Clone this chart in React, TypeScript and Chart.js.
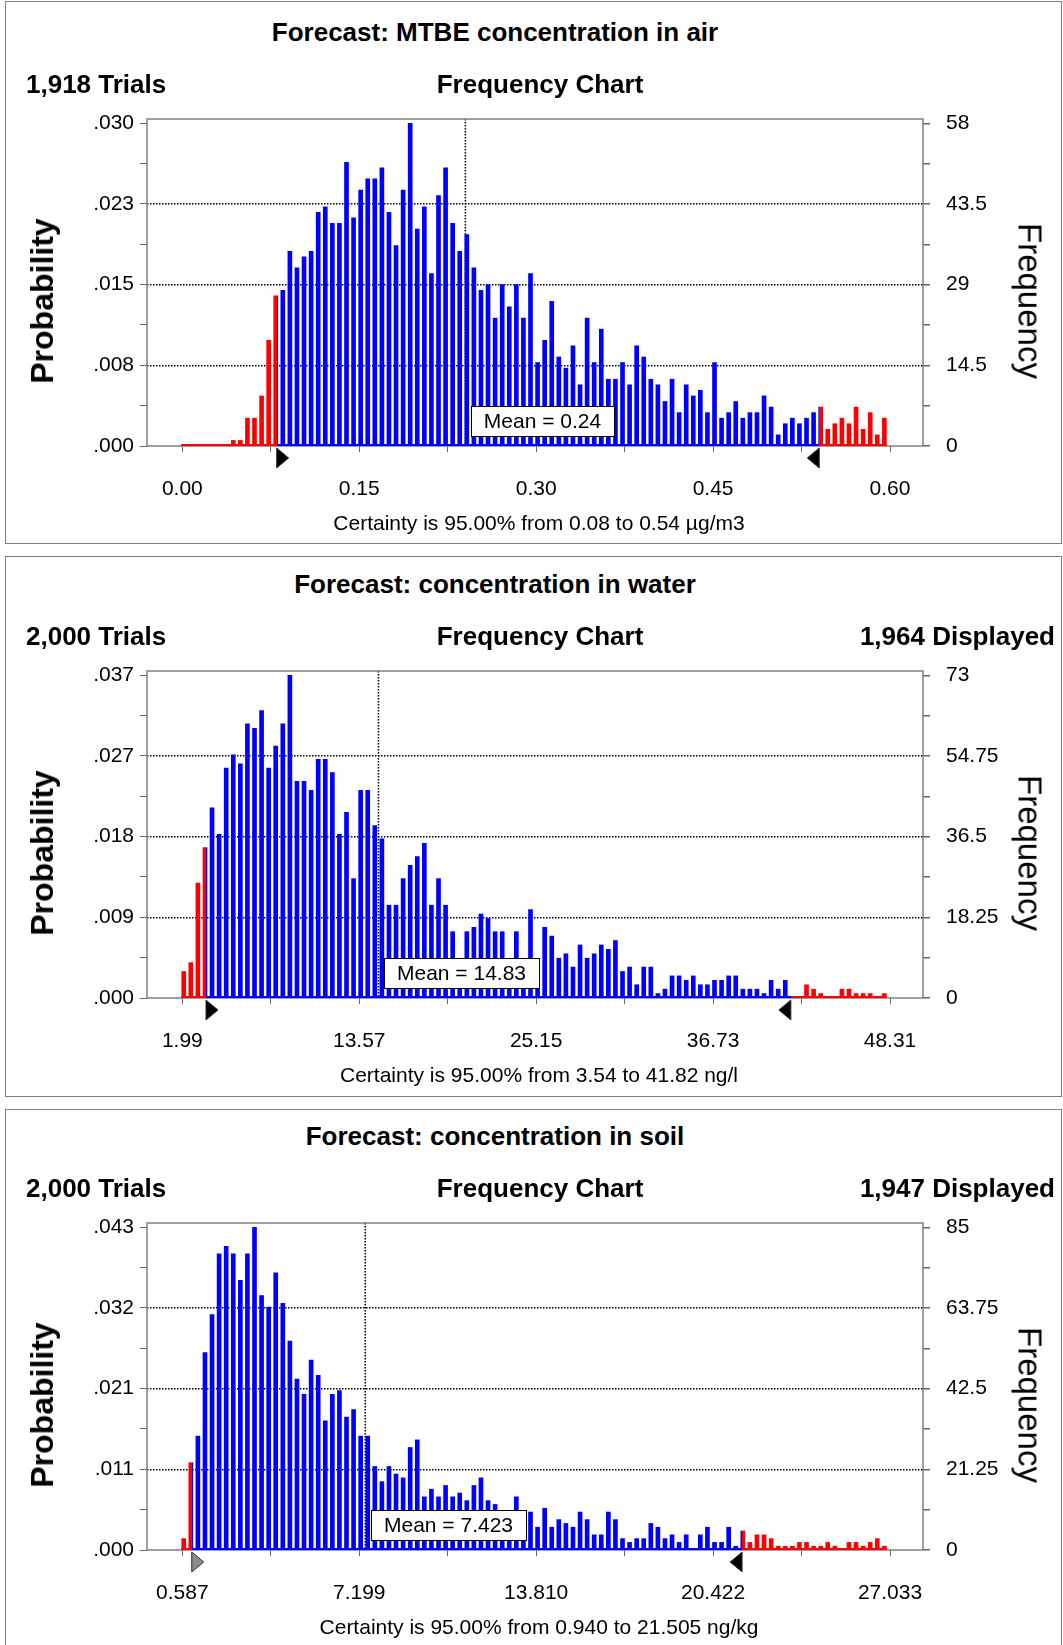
import React, { useEffect, useRef } from 'react';
import { Chart, registerables } from 'chart.js';

Chart.register(...registerables);

const FONT = '"Liberation Sans", Arial, Helvetica, sans-serif';
const RED = '#ff0000';
const BLUE = '#0000ff';

// ---------- Forecast 1: MTBE concentration in air ----------
const airTitle = 'Forecast: MTBE concentration in air';
const airTrialsText = '1,918 Trials';
const airDisplayedText = '';
const airTrials = 1918;
const airBinRange = [0.0, 0.6];
const airCounts = [
  0, 0, 0, 0, 0, 0, 0, 1, 1, 5,
  5, 9, 19, 27, 28, 35, 32, 34, 35, 42,
  43, 40, 40, 51, 41, 46, 48, 48, 50, 42,
  36, 46, 58, 39, 43, 31, 45, 50, 40, 35,
  38, 32, 28, 29, 23, 29, 25, 29, 23, 31,
  15, 19, 26, 16, 14, 18, 11, 23, 15, 21,
  12, 12, 15, 11, 18, 16, 12, 11, 8, 12,
  6, 11, 9, 10, 6, 15, 5, 6, 8, 5,
  6, 6, 9, 7, 2, 4, 5, 4, 5, 6,
  7, 3, 4, 5, 4, 7, 3, 6, 2, 5,
];
const airXTicks = ['0.00', '0.15', '0.30', '0.45', '0.60'];
const airFreqTicks = [0, 14.5, 29, 43.5, 58];
const airProbTicks = ['.000', '.008', '.015', '.023', '.030'];
const airMean = 0.24;
const airMeanLabel = 'Mean = 0.24';
const airCertainty = [0.08, 0.54];
const airCertaintyText = 'Certainty is 95.00% from 0.08 to 0.54 µg/m3';

// ---------- Forecast 2: concentration in water ----------
const waterTitle = 'Forecast: concentration in water';
const waterTrialsText = '2,000 Trials';
const waterDisplayedText = '1,964 Displayed';
const waterTrials = 2000;
const waterBinRange = [1.99, 48.31];
const waterCounts = [
  6, 8, 26, 34, 43, 37, 52, 55, 53, 62,
  61, 65, 52, 57, 62, 73, 49, 49, 47, 54,
  54, 51, 37, 42, 27, 47, 47, 39, 36, 21,
  21, 27, 30, 32, 35, 21, 27, 21, 15, 7,
  15, 16, 19, 18, 15, 15, 6, 15, 7, 20,
  6, 16, 14, 9, 10, 7, 12, 9, 10, 12,
  11, 13, 6, 7, 3, 7, 7, 1, 2, 5,
  5, 4, 5, 3, 3, 4, 4, 5, 5, 2,
  2, 2, 1, 4, 2, 4, 0, 0, 3, 2,
  1, 0, 0, 2, 2, 1, 1, 1, 0, 1,
];
const waterXTicks = ['1.99', '13.57', '25.15', '36.73', '48.31'];
const waterFreqTicks = [0, 18.25, 36.5, 54.75, 73];
const waterProbTicks = ['.000', '.009', '.018', '.027', '.037'];
const waterMean = 14.83;
const waterMeanLabel = 'Mean = 14.83';
const waterCertainty = [3.54, 41.82];
const waterCertaintyText = 'Certainty is 95.00% from 3.54 to 41.82 ng/l';

// ---------- Forecast 3: concentration in soil ----------
const soilTitle = 'Forecast: concentration in soil';
const soilTrialsText = '2,000 Trials';
const soilDisplayedText = '1,947 Displayed';
const soilTrials = 2000;
const soilBinRange = [0.587, 27.033];
const soilCounts = [
  3, 23, 30, 52, 62, 78, 80, 78, 71, 78,
  85, 67, 64, 73, 65, 55, 45, 41, 50, 46,
  34, 41, 42, 35, 37, 30, 30, 22, 18, 22,
  20, 19, 27, 29, 14, 16, 14, 17, 14, 15,
  13, 17, 19, 13, 12, 7, 6, 14, 7, 10,
  6, 11, 6, 8, 7, 6, 10, 8, 4, 4,
  10, 8, 3, 2, 3, 3, 7, 6, 3, 4,
  2, 4, 0, 4, 6, 2, 2, 6, 1, 5,
  2, 4, 4, 3, 1, 1, 1, 2, 2, 1,
  1, 2, 1, 0, 2, 2, 1, 2, 3, 1,
];
const soilXTicks = ['0.587', '7.199', '13.810', '20.422', '27.033'];
const soilFreqTicks = [0, 21.25, 42.5, 63.75, 85];
const soilProbTicks = ['.000', '.011', '.021', '.032', '.043'];
const soilMean = 7.423;
const soilMeanLabel = 'Mean = 7.423';
const soilCertainty = [0.94, 21.505];
const soilCertaintyText = 'Certainty is 95.00% from 0.940 to 21.505 ng/kg';

type Spec = {
  plotTop: number;
  frameTop: number;
  frameHeight: number;
  title: string;
  trialsText: string;
  displayedText: string;
  trials: number;
  binRange: number[];
  counts: number[];
  xTicks: string[];
  freqTicks: number[];
  probTicks: string[];
  mean: number;
  meanLabel: string;
  certainty: number[];
  certaintyText: string;
  lowMarkerFill: string;
};

const panels: Spec[] = [
  {
    plotTop: 119, frameTop: 1, frameHeight: 543,
    title: airTitle, trialsText: airTrialsText, displayedText: airDisplayedText,
    trials: airTrials, binRange: airBinRange, counts: airCounts,
    xTicks: airXTicks, freqTicks: airFreqTicks, probTicks: airProbTicks,
    mean: airMean, meanLabel: airMeanLabel, certainty: airCertainty,
    certaintyText: airCertaintyText, lowMarkerFill: '#000',
  },
  {
    plotTop: 671, frameTop: 556, frameHeight: 541,
    title: waterTitle, trialsText: waterTrialsText, displayedText: waterDisplayedText,
    trials: waterTrials, binRange: waterBinRange, counts: waterCounts,
    xTicks: waterXTicks, freqTicks: waterFreqTicks, probTicks: waterProbTicks,
    mean: waterMean, meanLabel: waterMeanLabel, certainty: waterCertainty,
    certaintyText: waterCertaintyText, lowMarkerFill: '#000',
  },
  {
    plotTop: 1223, frameTop: 1109, frameHeight: 560,
    title: soilTitle, trialsText: soilTrialsText, displayedText: soilDisplayedText,
    trials: soilTrials, binRange: soilBinRange, counts: soilCounts,
    xTicks: soilXTicks, freqTicks: soilFreqTicks, probTicks: soilProbTicks,
    mean: soilMean, meanLabel: soilMeanLabel, certainty: soilCertainty,
    certaintyText: soilCertaintyText, lowMarkerFill: '#8a8a8a',
  },
];

const CANVAS_W = 1063;
const PAD_TOP = 30;
const PLOT_H = 327;
const X_AXIS_H = 70;
const CANVAS_H = PAD_TOP + PLOT_H + X_AXIS_H;

// Horizontal fill: red outside the certainty range, blue inside it.
function certaintyFill(chart: any, s: Spec) {
  const a = chart.chartArea;
  const xs = chart.scales && chart.scales.x;
  if (!a || !xs) return BLUE;
  const key = `${a.left}|${a.right}`;
  if (chart.$certFill && chart.$certFill.key === key) return chart.$certFill.fill;
  const width = a.right - a.left;
  const clamp = (v: number) => Math.min(1, Math.max(0, v));
  const f0 = clamp((xs.getPixelForValue(s.certainty[0]) - a.left) / width);
  const f1 = clamp((xs.getPixelForValue(s.certainty[1]) - a.left) / width);
  const g = chart.ctx.createLinearGradient(a.left, 0, a.right, 0);
  g.addColorStop(0, RED);
  g.addColorStop(f0, RED);
  g.addColorStop(f0, BLUE);
  g.addColorStop(f1, BLUE);
  g.addColorStop(f1, RED);
  g.addColorStop(1, RED);
  chart.$certFill = { key, fill: g };
  return g;
}

function decorPlugin(s: Spec) {
  return {
    id: 'forecastDecor',
    beforeDatasetsDraw(chart: any) {
      const { ctx, chartArea: a, scales } = chart;
      const mx = scales.x.getPixelForValue(s.mean);
      ctx.save();
      ctx.strokeStyle = '#000';
      ctx.lineWidth = 1.5;
      ctx.setLineDash([1.5, 1.5]);
      ctx.beginPath();
      ctx.moveTo(mx, a.top);
      ctx.lineTo(mx, a.bottom);
      ctx.stroke();
      ctx.restore();
    },
    afterDatasetsDraw(chart: any) {
      const { ctx, chartArea: a, scales } = chart;
      const xs = scales.x;
      const y0 = scales.y.getPixelForValue(0);
      const bars = chart.getDatasetMeta(0).data;
      ctx.save();

      // plot frame
      ctx.strokeStyle = '#808080';
      ctx.lineWidth = 1.5;
      ctx.strokeRect(a.left, a.top, a.right - a.left, a.bottom - a.top);

      // coloured base line under the bins
      ctx.strokeStyle = certaintyFill(chart, s);
      ctx.lineWidth = 2.2;
      ctx.beginPath();
      ctx.moveTo(bars[0].x - 2.5, y0 - 1);
      ctx.lineTo(bars[bars.length - 1].x + 2.5, y0 - 1);
      ctx.stroke();

      // mean label
      ctx.font = `21px ${FONT}`;
      const tw = ctx.measureText(s.meanLabel).width;
      const bx = Math.round(xs.getPixelForValue(s.mean) + 6);
      const bw = Math.round(tw + 26);
      const by = Math.round(y0 - 40);
      const bh = 30;
      ctx.fillStyle = '#fff';
      ctx.fillRect(bx, by, bw, bh);
      ctx.strokeStyle = '#000';
      ctx.lineWidth = 1;
      ctx.strokeRect(bx + 0.5, by + 0.5, bw, bh);
      ctx.fillStyle = '#000';
      ctx.textAlign = 'center';
      ctx.textBaseline = 'middle';
      ctx.fillText(s.meanLabel, bx + bw / 2, by + bh / 2 + 1);

      // certainty grabbers
      const marker = (v: number, dir: number, fill: string) => {
        const x = xs.getPixelForValue(v);
        const t = a.bottom + 2;
        const b = a.bottom + 22;
        ctx.beginPath();
        ctx.moveTo(x, t);
        ctx.lineTo(x + dir * 12, (t + b) / 2);
        ctx.lineTo(x, b);
        ctx.closePath();
        ctx.fillStyle = fill;
        ctx.fill();
        ctx.strokeStyle = '#333';
        ctx.lineWidth = 1;
        ctx.stroke();
      };
      marker(s.certainty[0], 1, s.lowMarkerFill);
      marker(s.certainty[1], -1, '#000');
      ctx.restore();
    },
  };
}

function buildChart(canvas: HTMLCanvasElement, s: Spec) {
  const [lo, hi] = s.binRange;
  const n = s.counts.length;
  const binW = (hi - lo) / n;
  const points = s.counts.map((c, i) => ({ x: lo + (i + 0.2) * binW, y: c }));

  const xFirst = parseFloat(s.xTicks[0]);
  const xLast = parseFloat(s.xTicks[s.xTicks.length - 1]);
  const xSpan = xLast - xFirst;
  const xMin = xFirst - 0.0499 * xSpan;
  const xMax = xLast + 0.0466 * xSpan;
  const xTickVals = Array.from({ length: 9 }, (_, i) => xFirst + (i * xSpan) / 8);

  const fTop = s.freqTicks[s.freqTicks.length - 1];
  const yMax = fTop * 1.0133;
  const fTickVals = Array.from({ length: 9 }, (_, i) => (i * fTop) / 8);

  const tickFont = { family: FONT, size: 21 };

  return new Chart(canvas, {
    type: 'bar',
    data: {
      datasets: [
        {
          data: points,
          yAxisID: 'y',
          xAxisID: 'x',
          barThickness: 4,
          borderWidth: 0,
          backgroundColor: (ctx: any) => certaintyFill(ctx.chart, s),
          hoverBackgroundColor: (ctx: any) => certaintyFill(ctx.chart, s),
        },
      ],
    },
    options: {
      animation: false,
      responsive: false,
      events: [],
      layout: { padding: { top: PAD_TOP, left: 0, right: 0, bottom: 0 } },
      plugins: { legend: { display: false }, tooltip: { enabled: false }, title: { display: false } },
      scales: {
        x: {
          type: 'linear',
          position: 'bottom',
          min: xMin,
          max: xMax,
          offset: false,
          afterBuildTicks: (sc: any) => {
            sc.ticks = xTickVals.map((v) => ({ value: v }));
          },
          afterFit: (sc: any) => {
            sc.height = X_AXIS_H;
          },
          ticks: {
            autoSkip: false,
            maxRotation: 0,
            padding: 25,
            color: '#000',
            font: tickFont,
            callback: (_v: any, i: number) => (i % 2 === 0 ? s.xTicks[i / 2] : ''),
          },
          grid: {
            offset: false,
            drawOnChartArea: false,
            drawTicks: true,
            tickLength: 6,
            tickColor: '#666',
          },
          border: { display: false },
        },
        y: {
          type: 'linear',
          position: 'right',
          min: 0,
          max: yMax,
          afterBuildTicks: (sc: any) => {
            sc.ticks = fTickVals.map((v) => ({ value: v }));
          },
          afterFit: (sc: any) => {
            sc.width = CANVAS_W - 923;
          },
          ticks: {
            autoSkip: false,
            padding: 16,
            color: '#000',
            font: tickFont,
            callback: (_v: any, i: number) => (i % 2 === 0 ? String(s.freqTicks[i / 2]) : ''),
          },
          grid: {
            drawOnChartArea: true,
            drawTicks: true,
            tickLength: 7,
            tickColor: '#666',
            lineWidth: 1.5,
            color: (ctx: any) =>
              ctx.index % 2 === 0 && ctx.index > 0 && ctx.index < 8 ? '#000' : 'rgba(0,0,0,0)',
          },
          border: { display: false, dash: [1.5, 1.5] },
        },
        yp: {
          type: 'linear',
          position: 'left',
          min: 0,
          max: yMax / s.trials,
          afterBuildTicks: (sc: any) => {
            sc.ticks = fTickVals.map((v) => ({ value: v / s.trials }));
          },
          afterFit: (sc: any) => {
            sc.width = 147;
          },
          ticks: {
            autoSkip: false,
            padding: 6,
            color: '#000',
            font: tickFont,
            callback: (_v: any, i: number) => (i % 2 === 0 ? s.probTicks[i / 2] : ''),
          },
          grid: {
            drawOnChartArea: false,
            drawTicks: true,
            tickLength: 7,
            tickColor: '#666',
          },
          border: { display: false },
        },
      },
    },
    plugins: [decorPlugin(s)],
  } as any);
}

function Text({ x, y, align = 'center', rotate = 0, size, bold = false, children }: any) {
  const tx = align === 'left' ? '0' : align === 'right' ? '-100%' : '-50%';
  return (
    <div
      style={{
        position: 'absolute',
        left: x,
        top: y,
        transform: `translate(${tx}, -50%)${rotate ? ` rotate(${rotate}deg)` : ''}`,
        transformOrigin: align === 'center' ? '50% 50%' : undefined,
        fontSize: size,
        fontWeight: bold ? 700 : 400,
        lineHeight: 1,
        whiteSpace: 'nowrap',
        fontFamily: FONT,
        color: '#000',
      }}
    >
      {children}
    </div>
  );
}

function ForecastPanel({ spec }: { spec: Spec }) {
  const ref = useRef<HTMLCanvasElement | null>(null);
  useEffect(() => {
    if (!ref.current) return;
    const chart = buildChart(ref.current, spec);
    return () => chart.destroy();
  }, [spec]);
  const P = spec.plotTop;
  return (
    <>
      <div
        style={{
          position: 'absolute',
          left: 5,
          top: spec.frameTop,
          width: 1057,
          height: spec.frameHeight,
          border: '1.5px solid #808080',
          boxSizing: 'border-box',
        }}
      />
      <canvas
        ref={ref}
        width={CANVAS_W}
        height={CANVAS_H}
        style={{ position: 'absolute', left: 0, top: P - PAD_TOP, width: CANVAS_W, height: CANVAS_H }}
      />
      <Text x={495} y={P - 87.5} size={26} bold>{spec.title}</Text>
      <Text x={26} y={P - 35} size={26} bold align="left">{spec.trialsText}</Text>
      <Text x={540} y={P - 35} size={26} bold>Frequency Chart</Text>
      {spec.displayedText ? (
        <Text x={1055} y={P - 35} size={26} bold align="right">{spec.displayedText}</Text>
      ) : null}
      <Text x={42} y={P + 182} size={32} bold rotate={-90}>Probability</Text>
      <Text x={1030} y={P + 182} size={33} rotate={90}>Frequency</Text>
      <Text x={539} y={P + 402.5} size={21}>{spec.certaintyText}</Text>
    </>
  );
}

export default function App() {
  return (
    <div
      style={{
        position: 'absolute',
        left: 0,
        top: 0,
        width: 1063,
        height: 1645,
        background: '#fff',
        overflow: 'hidden',
        fontFamily: FONT,
      }}
    >
      {panels.map((p, i) => (
        <ForecastPanel key={i} spec={p} />
      ))}
    </div>
  );
}
